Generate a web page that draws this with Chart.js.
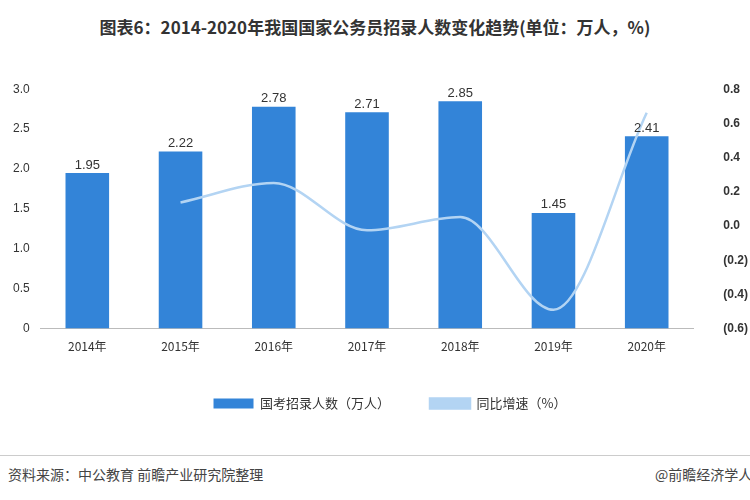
<!DOCTYPE html>
<html><head><meta charset="utf-8">
<script src="https://cdn.jsdelivr.net/npm/chart.js"></script>
<style>
body{margin:0;width:750px;height:500px;overflow:hidden;background:#fff;font-family:"Noto Sans CJK SC",sans-serif;position:relative}
#title{position:absolute;top:14px;left:0;width:750px;text-align:center;font-size:17px;font-weight:bold;color:#333}
#wrap{position:absolute;top:60px;left:0;width:800px;height:380px}
#foot{position:absolute;top:455px;left:0;width:750px;height:45px;overflow:hidden;border-top:1px solid #ccc;font-size:14px;color:#444}
#foot span{position:absolute;top:8px;white-space:nowrap}
</style></head><body>
<div id="title">图表6：2014-2020年我国国家公务员招录人数变化趋势(单位：万人，%)</div>
<div id="wrap"><canvas id="c" width="800" height="380"></canvas></div>
<div id="foot"><span style="left:8px">资料来源：中公教育 前瞻产业研究院整理</span><span style="left:655px">@前瞻经济学人</span></div>
<script>
const years = ['2014年','2015年','2016年','2017年','2018年','2019年','2020年'];
const recruits = [1.95, 2.22, 2.78, 2.71, 2.85, 1.45, 2.41];
const growth = [null, 0.138, 0.252, -0.025, 0.052, -0.49, 0.662];

const labelPlugin = {
  id: 'barLabels',
  afterDatasetsDraw(chart) {
    const ctx = chart.ctx;
    chart.getDatasetMeta(1).data.forEach((bar, i) => {
      ctx.save();
      ctx.fillStyle = '#333';
      ctx.font = '13px "Liberation Sans", sans-serif';
      ctx.textAlign = 'center';
      ctx.fillText(recruits[i].toFixed(2), bar.x, bar.y - 8);
      ctx.restore();
    });
  }
};

new Chart(document.getElementById('c'), {
  data: {
    labels: years,
    datasets: [
      {type: 'line', label: '同比增速（%）', data: growth, yAxisID: 'y1',
       borderColor: '#b3d4f3', backgroundColor: '#b3d4f3', borderWidth: 2.5,
       pointRadius: 0, cubicInterpolationMode: 'monotone', order: 0},
      {type: 'bar', label: '国考招录人数（万人）', data: recruits, yAxisID: 'y',
       backgroundColor: '#3384d8', barPercentage: 0.55, categoryPercentage: 0.85, order: 1}
    ]
  },
  options: {
    responsive: false,
    animation: false,
    layout: {padding: {left: 10, right: 30, top: 20, bottom: 20}},
    plugins: {
      legend: {position: 'bottom', reverse: true, labels: {boxWidth: 40, boxHeight: 10, padding: 40,
        font: {size: 13, family: '"Noto Sans CJK SC"'}, color: '#333'}},
      tooltip: {enabled: false}
    },
    scales: {
      x: {grid: {display: false}, border: {color: '#bbb'},
          ticks: {color: '#333', maxRotation: 0, font: {size: 12, family: '"Noto Sans CJK SC"'}}},
      y: {min: 0, max: 3, ticks: {stepSize: 0.5, color: '#333', font: {size: 12}},
          grid: {display: false}, border: {display: false}},
      y1: {position: 'right', min: -0.6, max: 0.8,
           ticks: {stepSize: 0.2, color: '#333', font: {size: 12, weight: 'bold'}, padding: 22,
                   callback: v => Math.abs(v) < 1e-9 ? '0.0' : (v < 0 ? '(' + Math.abs(v).toFixed(1) + ')' : v.toFixed(1))},
           grid: {display: false}, border: {display: false}}
    }
  },
  plugins: [labelPlugin]
});
</script>
</body></html>
